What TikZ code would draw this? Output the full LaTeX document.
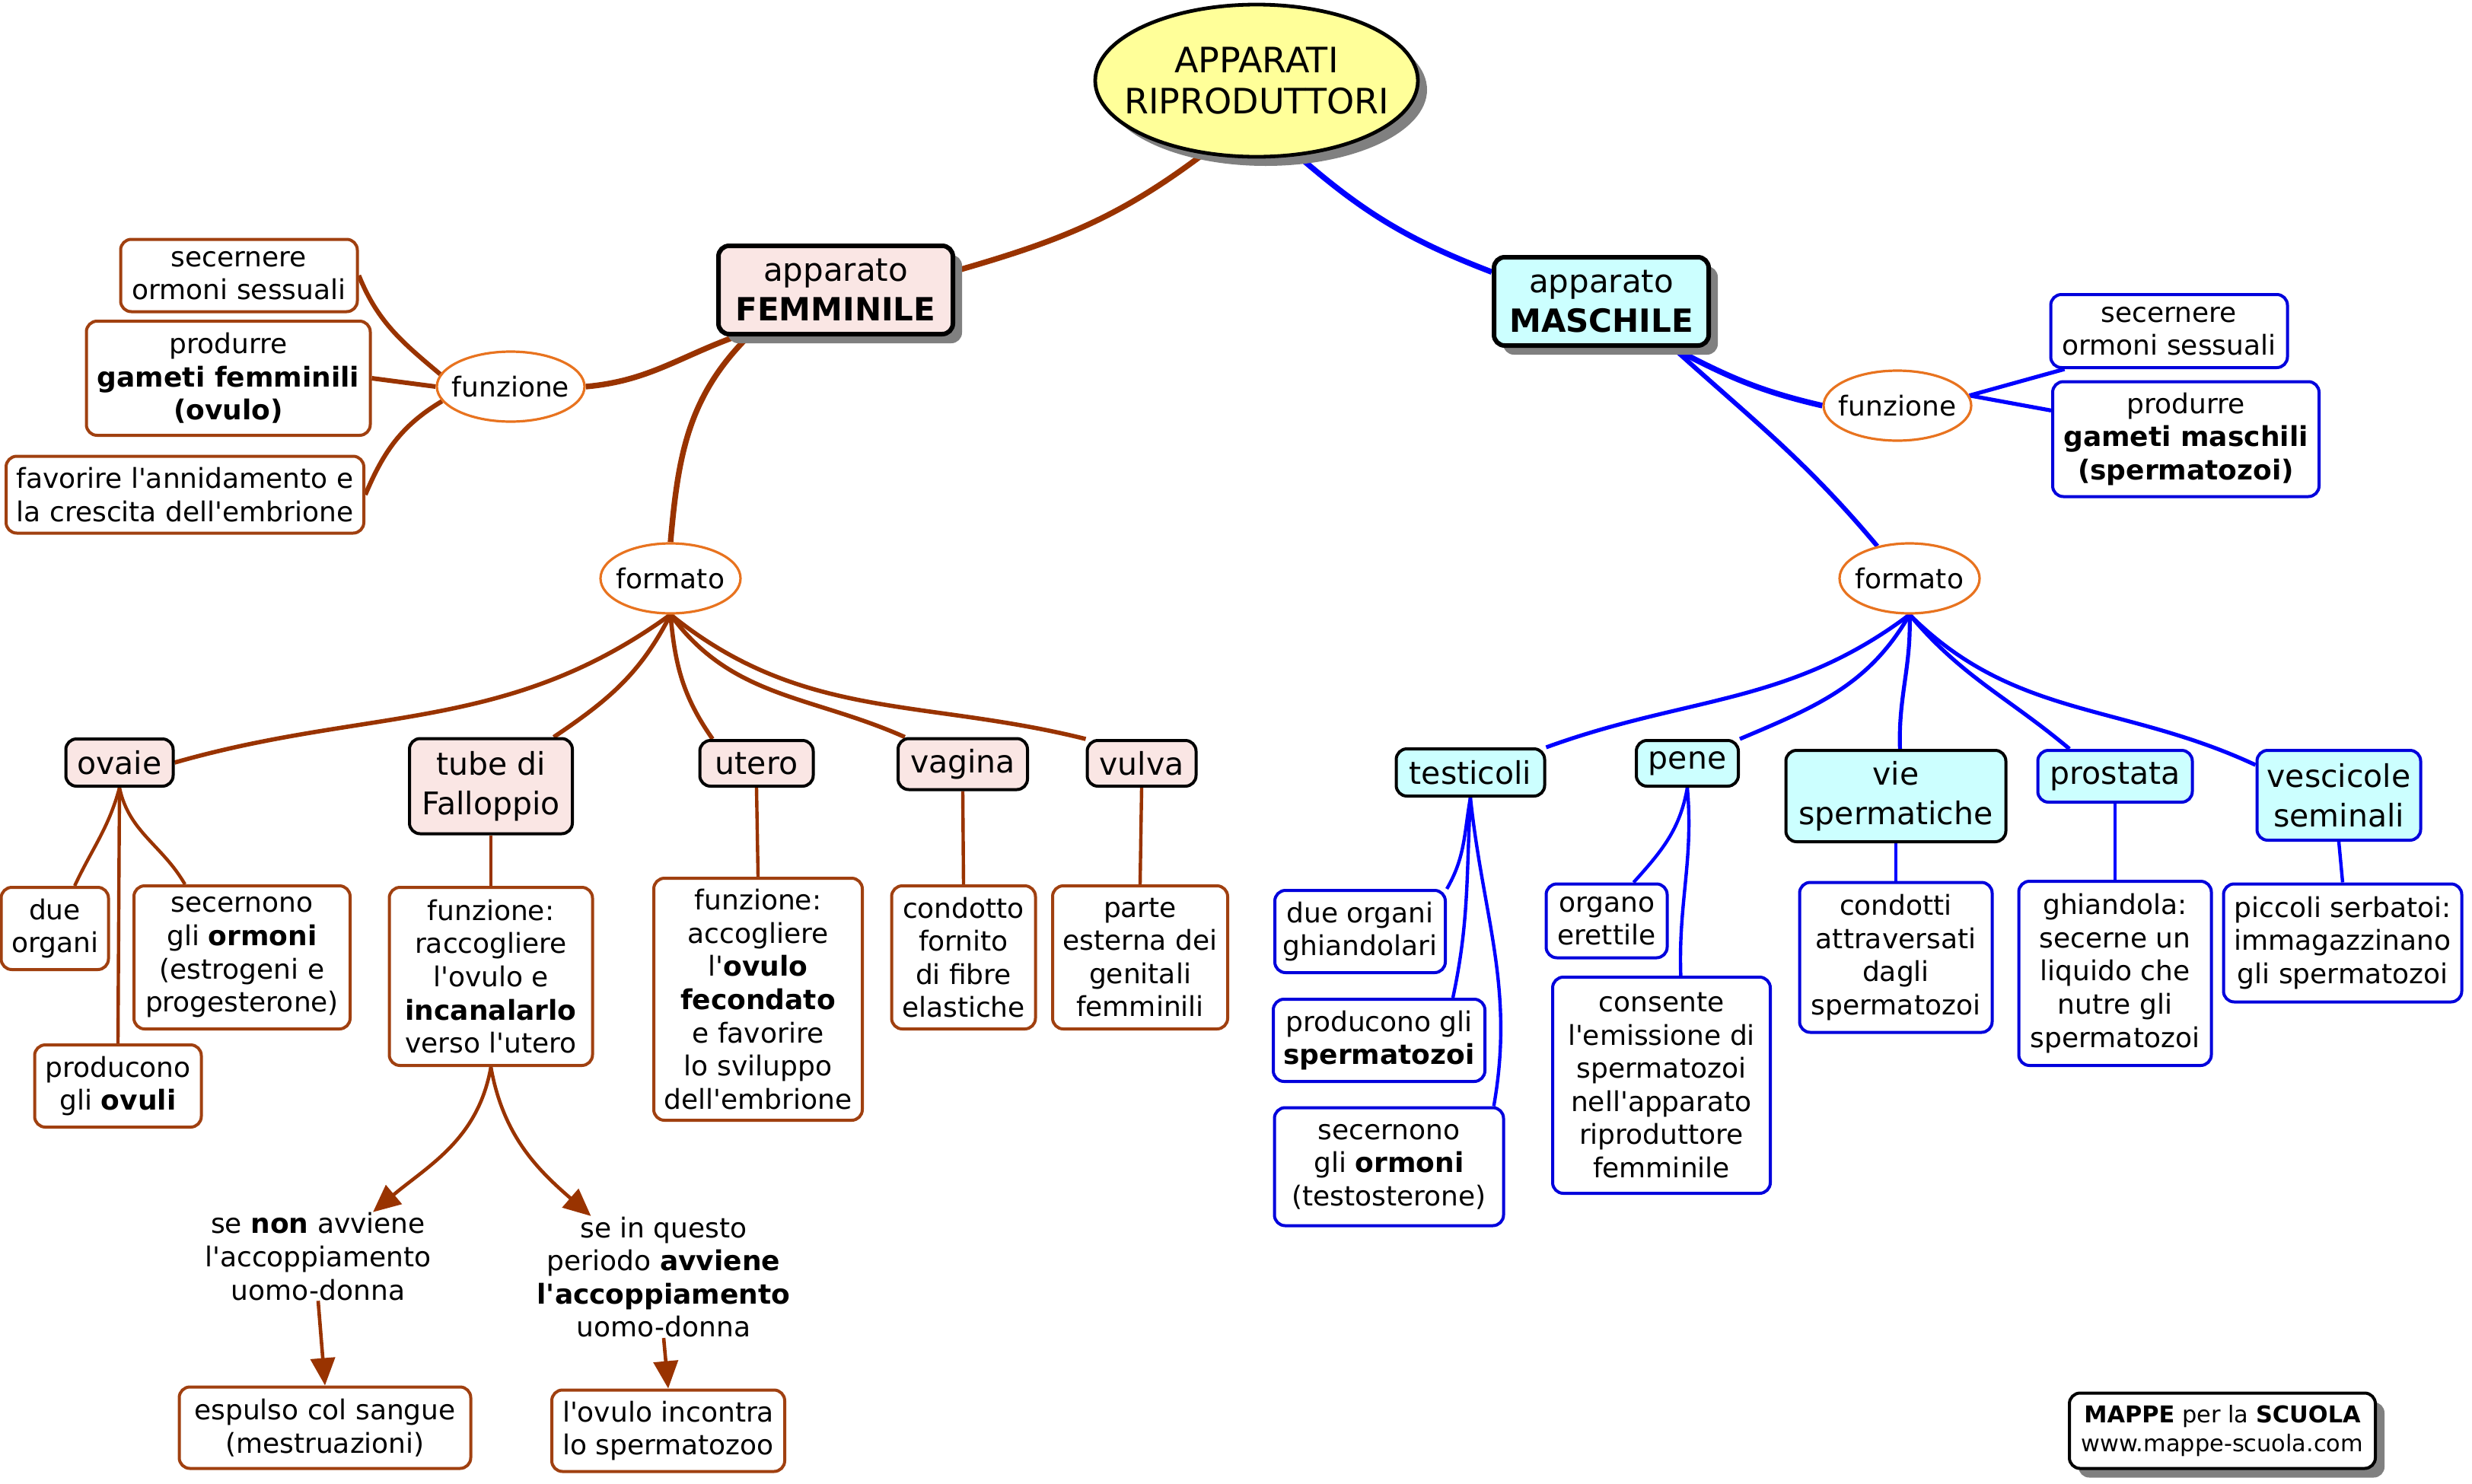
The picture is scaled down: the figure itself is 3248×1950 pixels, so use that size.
\documentclass[tikz,border=0pt]{standalone}
\usepackage{fontspec}
\setmainfont{DejaVu Sans}
\newfontfamily\dvs{DejaVu Sans}
\usetikzlibrary{shapes.geometric,shadows,arrows.meta,backgrounds}
\definecolor{brn}{RGB}{153,51,0}
\definecolor{brnbox}{RGB}{160,64,16}
\definecolor{orng}{RGB}{232,115,31}
\definecolor{pinkf}{RGB}{250,230,228}
\definecolor{cyanf}{RGB}{204,255,255}
\definecolor{blu}{RGB}{0,0,255}
\definecolor{blubox}{RGB}{0,0,220}
\definecolor{ylw}{RGB}{255,255,153}
\definecolor{shd}{RGB}{128,128,128}
\newcommand{\fsLeaf}{\dvs\fontsize{9}{10.9}\selectfont}
\newcommand{\fsCat}{\dvs\fontsize{10.25}{13}\selectfont}
\newcommand{\fsApp}{\dvs\fontsize{10.5}{13}\selectfont}
\newcommand{\fsTitle}{\dvs\fontsize{11.5}{13.5}\selectfont}
\newcommand{\fsFoot}{\dvs\fontsize{7.6}{9.3}\selectfont}
\tikzset{
  bx/.style={rectangle, rounded corners=3.5pt, align=center, inner sep=0pt, fill=white},
  leafF/.style={bx, draw=brnbox, line width=1pt, font=\fsLeaf},
  leafM/.style={bx, draw=blubox, line width=1pt, font=\fsLeaf},
  catF/.style={bx, draw=black, line width=1pt, fill=pinkf, font=\fsCat},
  catM/.style={bx, draw=black, line width=1pt, fill=cyanf, font=\fsCat},
  catMb/.style={catM, draw=blubox},
  shadowed/.style={drop shadow={shadow xshift=3pt, shadow yshift=-3pt, fill=shd, opacity=1}},
  appbox/.style={bx, draw=black, line width=1.5pt, font=\fsApp, shadowed},
  titlebox/.style={ellipse, draw=black, line width=1.2pt, fill=ylw, inner xsep=-7pt, inner ysep=0pt, align=center, font=\fsTitle, shadowed},
  oval/.style={ellipse, draw=orng, line width=0.8pt, fill=white, inner xsep=-3.5pt, inner ysep=0pt, font=\fsLeaf},
  plain/.style={align=center, inner sep=0pt, font=\fsLeaf},
  foot/.style={bx, draw=black, line width=1pt, font=\fsFoot, shadowed},
  cF1/.style={draw=brn, line width=1.85pt},
  cF2/.style={draw=brn, line width=1.5pt},
  cF3/.style={draw=brn, line width=1.4pt},
  cF4/.style={draw=brn, line width=1.1pt},
  cM1/.style={draw=blu, line width=1.85pt},
  cM2/.style={draw=blu, line width=1.5pt},
  cM3/.style={draw=blu, line width=1.3pt},
  cM4/.style={draw=blu, line width=1.1pt},
  arr/.style={draw=brn, line width=1.15pt, -{Triangle[length=9pt,width=8pt]}},
}
\begin{document}
\begin{tikzpicture}[x=0.25pt,y=0.25pt]
\useasboundingbox (0,0) rectangle (3248,-1950);

% title and apparatus
\node[titlebox, minimum width=106pt, minimum height=50pt] (title) at (1651,-106) {APPARATI\\RIPRODUTTORI};
\node[appbox, fill=pinkf, minimum width=77pt, minimum height=29pt] (fem) at (1098,-381) {apparato\\\textbf{FEMMINILE}};
\node[appbox, fill=cyanf, minimum width=70.5pt, minimum height=29pt] (mas) at (2104,-396) {apparato\\\textbf{MASCHILE}};

% ellipses
\node[oval, minimum width=48.5pt, minimum height=23pt] (funzF) at (671,-508) {funzione};
\node[oval, minimum width=48.5pt, minimum height=23pt] (funzM) at (2493,-533) {funzione};
\node[oval, minimum width=46pt, minimum height=23pt] (formF) at (881,-760) {formato};
\node[oval, minimum width=46pt, minimum height=23pt] (formM) at (2509,-760) {formato};

% female function boxes
\node[leafF, minimum width=77.75pt, minimum height=23.75pt] (sF1) at (314,-362) {secernere\\ormoni sessuali};
\node[leafF, minimum width=93.25pt, minimum height=37.5pt] (sF2) at (300,-497) {produrre\\\textbf{gameti femminili}\\\textbf{(ovulo)}};
\node[leafF, minimum width=117.5pt, minimum height=25.25pt] (sF3) at (243,-650) {favorire l'annidamento e\\la crescita dell'embrione};

% male function boxes
\node[leafM, minimum width=77.75pt, minimum height=24pt] (sM1) at (2850,-435) {secernere\\ormoni sessuali};
\node[leafM, minimum width=87.5pt, minimum height=37.75pt] (sM2) at (2872,-577) {produrre\\\textbf{gameti maschili}\\\textbf{(spermatozoi)}};

% female organs
\node[catF, minimum width=35.25pt, minimum height=15.5pt] (ovaie) at (157,-1002) {ovaie};
\node[catF, minimum width=53.5pt, minimum height=31.25pt] (tube) at (645,-1033) {tube di\\Falloppio};
\node[catF, minimum width=37.25pt, minimum height=15pt] (utero) at (994,-1003) {utero};
\node[catF, minimum width=42.5pt, minimum height=16.75pt] (vagina) at (1265,-1004) {vagina};
\node[catF, minimum width=35.75pt, minimum height=15pt] (vulva) at (1500,-1003) {vulva};

% female leaves
\node[leafF, minimum width=35.25pt, minimum height=27pt] (ov1) at (72,-1220) {due\\organi};
\node[leafF, minimum width=71pt, minimum height=47pt] (ov2) at (318,-1258) {secernono\\gli \textbf{ormoni}\\(estrogeni e\\progesterone)};
\node[leafF, minimum width=54.75pt, minimum height=27pt] (ov3) at (155,-1427) {producono\\gli \textbf{ovuli}};
\node[leafF, minimum width=66.75pt, minimum height=58.5pt] (tu1) at (645,-1283) {funzione:\\raccogliere\\l'ovulo e\\\textbf{incanalarlo}\\verso l'utero};
\node[leafF, minimum width=68.5pt, minimum height=79.5pt] (ut1) at (996,-1313) {funzione:\\accogliere\\l'\textbf{ovulo}\\\textbf{fecondato}\\e favorire\\lo sviluppo\\dell'embrione};
\node[leafF, minimum width=47.25pt, minimum height=47pt] (va1) at (1266,-1258) {condotto\\fornito\\di fibre\\elastiche};
\node[leafF, minimum width=57.5pt, minimum height=47pt] (vu1) at (1498,-1258) {parte\\esterna dei\\genitali\\femminili};

% consequences
\node[plain] (no) at (418,-1651) {se \textbf{non} avviene\\l'accoppiamento\\uomo-donna};
\node[plain] (yes) at (872,-1678) {se in questo\\periodo \textbf{avviene}\\\textbf{l'accoppiamento}\\uomo-donna};
\node[leafF, minimum width=95.75pt, minimum height=26.75pt] (es1) at (427,-1876) {espulso col sangue\\(mestruazioni)};
\node[leafF, minimum width=76.5pt, minimum height=26.75pt] (es2) at (878,-1880) {l'ovulo incontra\\lo spermatozoo};

% male organs
\node[catM, minimum width=48.75pt, minimum height=15.5pt] (test) at (1932,-1015) {testicoli};
\node[catM, minimum width=33.5pt, minimum height=15pt] (pene) at (2217,-1003) {pene};
\node[catM, minimum width=72.25pt, minimum height=30pt] (vie) at (2491,-1046) {vie\\spermatiche};
\node[catMb, minimum width=50.75pt, minimum height=17pt] (pros) at (2779,-1020) {prostata};
\node[catMb, minimum width=53.75pt, minimum height=29.5pt] (vesc) at (3073,-1045) {vescicole\\seminali};

% male leaves
\node[leafM, minimum width=56pt, minimum height=27pt] (te1) at (1787,-1224) {due organi\\ghiandolari};
\node[leafM, minimum width=69.5pt, minimum height=27pt] (te2) at (1812,-1367) {producono gli\\\textbf{spermatozoi}};
\node[leafM, minimum width=75.25pt, minimum height=38.75pt] (te3) at (1825,-1533) {secernono\\gli \textbf{ormoni}\\(testosterone)};
\node[leafM, minimum width=39.75pt, minimum height=24.25pt] (pe1) at (2111,-1210) {organo\\erettile};
\node[leafM, minimum width=71.5pt, minimum height=71pt] (pe2) at (2183,-1426) {consente\\l'emissione di\\spermatozoi\\nell'apparato\\riproduttore\\femminile};
\node[leafM, minimum width=63.25pt, minimum height=49.25pt] (vi1) at (2491,-1258) {condotti\\attraversati\\dagli\\spermatozoi};
\node[leafM, minimum width=63.25pt, minimum height=60.5pt] (pr1) at (2779,-1279) {ghiandola:\\secerne un\\liquido che\\nutre gli\\spermatozoi};
\node[leafM, minimum width=78.25pt, minimum height=38.75pt] (vs1) at (3078,-1239) {piccoli serbatoi:\\immagazzinano\\gli spermatozoi};

% footer
\node[foot, minimum width=100.5pt, minimum height=24.75pt] (footer) at (2920,-1880) {\textbf{MAPPE} per la \textbf{SCUOLA}\\www.mappe-scuola.com};

\begin{scope}[on background layer]
% main
\draw[cF1] (title.234) to[out=217,in=16] (fem.9);
\draw[cM1] (title.299) to[out=-41,in=159] (mas.165);
\draw[cF1] (fem.205) to[out=200,in=5] (funzF.east);
\draw[cF1] (fem.208) to[out=225,in=85] (formF.north);
\draw[cM1] (mas.327) to[out=-28,in=167] (funzM.west);
\draw[cM2] (mas.327) to[out=-42,in=130] (formM.135);
% functions
\draw[cF2] (funzF.170) to[out=140,in=-68] (sF1.east);
\draw[cF2] (funzF.west) -- (sF2.east);
\draw[cF2] (funzF.192) to[out=211,in=67] (sF3.east);
\draw[cM3] (funzM.8) -- (sM1.200);
\draw[cM3] (funzM.8) -- (sM2.168);
% female organs
\draw[cF3] (formF.south) to[out=216,in=16] (ovaie.east);
\draw[cF3] (formF.south) to[out=243,in=34] (tube.38);
\draw[cF3] (formF.south) to[out=275,in=125] (utero.151);
\draw[cF3] (formF.south) to[out=306,in=156] (vagina.155);
\draw[cF3] (formF.south) to[out=321,in=166] (vulva.north west);
% male organs
\draw[cM3] (formM.south) to[out=217,in=20] (test.north east);
\draw[cM3] (formM.south) to[out=240,in=23] (pene.north east);
\draw[cM3] (formM.south) to[out=-88,in=92] (vie.85);
\draw[cM3] (formM.south) to[out=310,in=140] (pros.149);
\draw[cM3] (formM.south) to[out=315,in=155] (vesc.160);
% female leaves
\draw[cF4] (ovaie.south) to[out=255,in=65] (ov1.65);
\draw[cF4] (ovaie.south) to[out=-78,in=120] (ov2.128);
\draw[cF4] (ovaie.south) -- (ov3.north);
\draw[cF4] (tube.south) -- (tu1.north);
\draw[cF4] (utero.south) -- (ut1.north);
\draw[cF4] (vagina.south) -- (va1.north);
\draw[cF4] (vulva.south) -- (vu1.north);
% male leaves
\draw[cM4] (test.south) to[out=-100,in=60] (te1.north east);
\draw[cM4] (test.south) to[out=-93,in=78] (te2.30);
\draw[cM4] (test.south) to[out=-84,in=80] (te3.30);
\draw[cM4] (pene.south) to[out=260,in=48] (pe1.55);
\draw[cM4] (pene.south) to[out=-85,in=92] (pe2.80);
\draw[cM4] (vie.south) -- (vi1.north);
\draw[cM4] (pros.south) -- (pr1.north);
\draw[cM4] (vesc.south) -- (vs1.north);
\end{scope}
% arrows
\draw[arr] (tu1.south) to[out=-100,in=40] (no.39);
\draw[arr] (tu1.south) to[out=-80,in=139] (yes.140);
\draw[arr] (no.south) -- (es1.north);
\draw[arr] (yes.south) -- (es2.north);
\end{tikzpicture}
\end{document}
